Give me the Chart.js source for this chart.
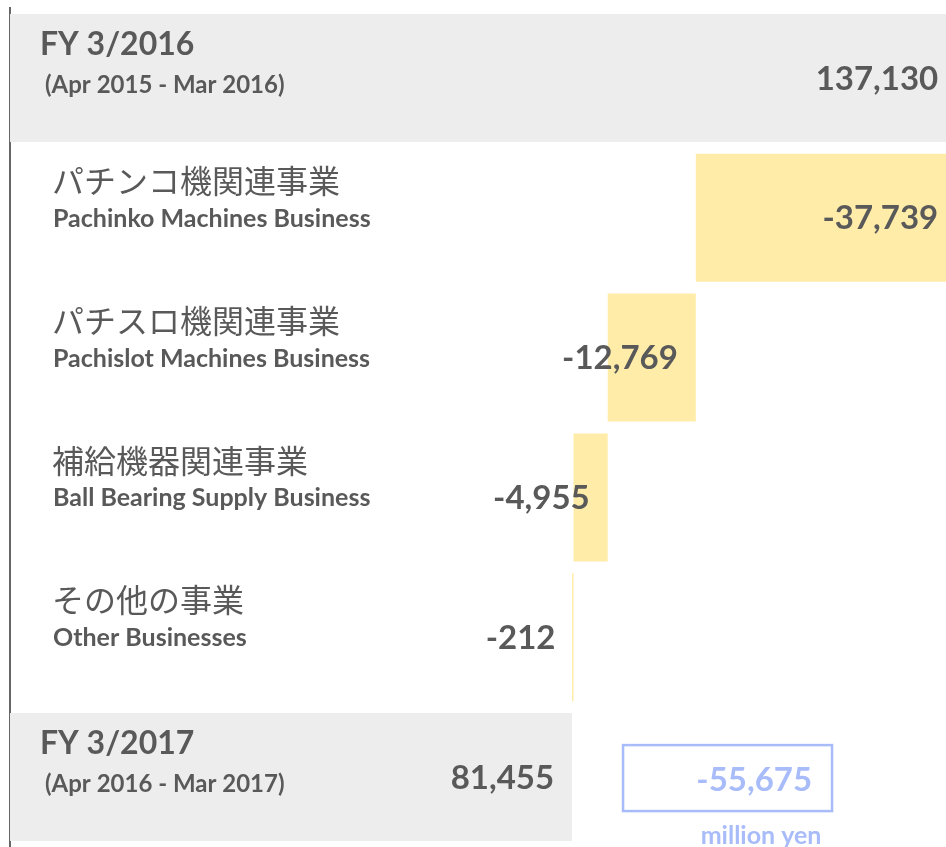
<!DOCTYPE html>
<html>
<head>
<meta charset="utf-8">
<script src="https://cdn.jsdelivr.net/npm/chart.js@4"></script>
<style>
    html, body { margin: 0; padding: 0; background: #fff; }
</style>
</head>
<body>
<canvas id="waterfall" width="946" height="847"></canvas>
<script>
// Chart data (million yen)
const categories = ["FY 3/2016", "パチンコ機関連事業", "パチスロ機関連事業", "補給機器関連事業", "その他の事業", "FY 3/2017"];
const subLabels = ["(Apr 2015 - Mar 2016)", "Pachinko Machines Business", "Pachislot Machines Business", "Ball Bearing Supply Business", "Other Businesses", "(Apr 2016 - Mar 2017)"];
const startValue = 137130;
const changes = [-37739, -12769, -4955, -212];
const endValue = 81455;
const totalChange = -55675;
const unitLabel = "million yen";

const textColor = "#595959";
const totalColor = "#ededed";
const changeColor = "#ffeca9";
const boxColor = "#a9bcfa";
const latin = "Lato, 'Open Sans', sans-serif";
const cjk = "'Noto Sans CJK JP', sans-serif";

// Build floating bars for the waterfall
let running = startValue;
const barData = [[0, startValue]];
changes.forEach(c => {
    barData.push([running + c, running]);
    running += c;
});
barData.push([0, endValue]);
const valueLabels = [startValue, ...changes, endValue];
const barColors = categories.map((c, i) => (i === 0 || i === categories.length - 1) ? totalColor : changeColor);

function fmt(v) {
    return v.toLocaleString("en-US");
}

// Labels, values and the total change box
const labelPlugin = {
    id: "waterfallLabels",
    afterDatasetsDraw(chart) {
        const ctx = chart.ctx;
        const meta = chart.getDatasetMeta(0);
        const last = categories.length - 1;
        ctx.save();
        ctx.fillStyle = textColor;
        ctx.textBaseline = "middle";

        meta.data.forEach((bar, i) => {
            const y = bar.y;
            ctx.textAlign = "left";
            if (i === 0 || i === last) {
                ctx.font = "bold 32px " + latin;
                ctx.fillText(categories[i], 40, y - 33);
                ctx.font = "bold 24px " + latin;
                ctx.fillText(subLabels[i], 45, y + 7);
            } else {
                ctx.font = "32px " + cjk;
                ctx.fillText(categories[i], 52, y - 37);
                ctx.font = "bold 25px " + latin;
                ctx.fillText(subLabels[i], 53, y + 1);
            }

            // value at the right end of each bar
            const right = Math.max(bar.x, bar.base);
            ctx.textAlign = "right";
            ctx.font = "bold 33px " + latin;
            ctx.fillText(fmt(valueLabels[i]), right - 18, y + 1);
        });

        // total change box next to the last bar
        const endBar = meta.data[last];
        const bx = Math.max(endBar.x, endBar.base) + 51;
        const by = endBar.y - 32;
        ctx.strokeStyle = boxColor;
        ctx.lineWidth = 2.5;
        ctx.strokeRect(bx, by, 209, 66);
        ctx.fillStyle = boxColor;
        ctx.textAlign = "right";
        ctx.font = "bold 33px " + latin;
        ctx.fillText(fmt(totalChange), bx + 189, by + 35);
        ctx.textAlign = "center";
        ctx.font = "bold 25px " + latin;
        ctx.fillText(unitLabel, bx + 138, by + 91);
        ctx.restore();
    }
};

const ctx = document.getElementById("waterfall").getContext("2d");
const chart = new Chart(ctx, {
    type: "bar",
    data: {
        labels: categories,
        datasets: [{
            data: barData,
            backgroundColor: barColors,
            borderWidth: 0,
            categoryPercentage: 1,
            barPercentage: 0.915
        }]
    },
    options: {
        indexAxis: "y",
        responsive: false,
        animation: false,
        layout: { padding: { left: 10, top: 8, right: 0, bottom: 0 } },
        plugins: {
            legend: { display: false },
            tooltip: { enabled: false }
        },
        scales: {
            x: {
                display: false,
                min: 0,
                max: 135650
            },
            y: {
                grid: { display: false },
                ticks: { display: false },
                border: { display: true, color: "#666666", width: 2 },
                afterFit: scale => { scale.width = 0; }
            }
        }
    },
    plugins: [labelPlugin]
});
</script>
</body>
</html>
